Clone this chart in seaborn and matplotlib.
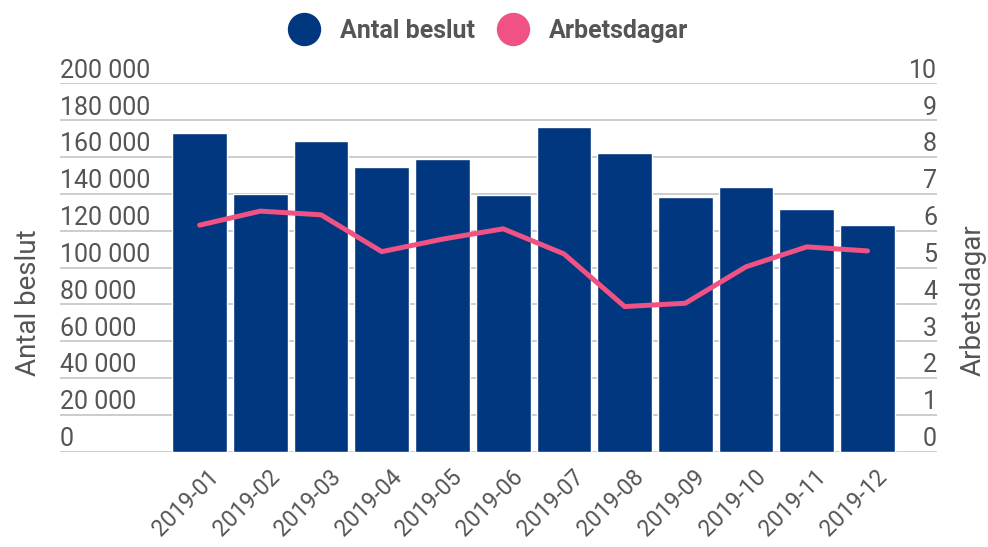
import matplotlib
matplotlib.use("Agg")
import matplotlib.pyplot as plt
import matplotlib.transforms as mtransforms
from matplotlib.lines import Line2D
import seaborn as sns
import numpy as np
import pandas as pd

months = ["2019-01", "2019-02", "2019-03", "2019-04", "2019-05", "2019-06",
          "2019-07", "2019-08", "2019-09", "2019-10", "2019-11", "2019-12"]
antal_beslut = [172900, 140100, 168500, 154400, 158700, 139200,
                176100, 162000, 138100, 143500, 131600, 122900]
arbetsdagar = [6.15, 6.53, 6.43, 5.43, 5.77, 6.05,
               5.37, 3.94, 4.03, 5.02, 5.56, 5.45]
left_ticks = [0, 20000, 40000, 60000, 80000, 100000, 120000, 140000, 160000, 180000, 200000]
right_ticks = [0, 1, 2, 3, 4, 5, 6, 7, 8, 9, 10]

BLUE = "#01377f"
PINK = "#ef5283"
GREY = "#555555"

sns.set_theme(style="white")
plt.rcParams["font.family"] = ["Roboto", "DejaVu Sans"]

df = pd.DataFrame({"month": months, "beslut": antal_beslut,
                   "dagar": arbetsdagar, "pos": np.arange(len(months))})

W, H = 988, 547
fig = plt.figure(figsize=(W / 100, H / 100), dpi=100)
ax = fig.add_axes([60 / W, (H - 451.7) / H, (937 - 60) / W, (451.7 - 83.3) / H])

sns.barplot(data=df, x="month", y="beslut", color=BLUE, saturation=1,
            width=0.9, ax=ax, zorder=2)
ax.set_xlim(-2.30, 12.145)
ax.set_ylim(0, 200000)
ax.set_yticks(left_ticks)
ax.yaxis.grid(True, color="#cccccc", linewidth=1.4, zorder=0)
ax.set_axisbelow(True)
ax.tick_params(axis="y", length=0, labelleft=False)
ax.tick_params(axis="x", length=0, pad=10)
ax.set_xticks(range(len(months)))
ax.set_xticklabels(months, rotation=45, ha="right", rotation_mode="anchor",
                   fontsize=16.5, color=GREY)
shift = mtransforms.ScaledTranslation(8 / 100, 0, fig.dpi_scale_trans)
for lab in ax.get_xticklabels():
    lab.set_transform(lab.get_transform() + shift)
ax.set_xlabel("")
ax.set_ylabel("")
for s in ax.spines.values():
    s.set_visible(False)

for v in left_ticks:
    lab = f"{v:,}".replace(",", " ")
    ax.annotate(lab, xy=(0, v), xycoords=ax.get_yaxis_transform(),
                xytext=(0, 4), textcoords="offset points",
                ha="left", va="baseline", fontsize=18, color=GREY)

ax2 = ax.twinx()
sns.lineplot(data=df, x="pos", y="dagar", color=PINK, linewidth=3.6, ax=ax2, zorder=3)
ax2.set_ylim(0, 10)
ax2.set_yticks(right_ticks)
ax2.tick_params(axis="y", length=0, labelright=False)
ax2.set_xlabel("")
ax2.set_ylabel("")
for s in ax2.spines.values():
    s.set_visible(False)
for v in right_ticks:
    ax2.annotate(str(v), xy=(1, v), xycoords=ax2.get_yaxis_transform(),
                 xytext=(0, 4), textcoords="offset points",
                 ha="right", va="baseline", fontsize=18, color=GREY)

fig.text(29 / W, 1 - 303 / H, "Antal beslut", rotation=90, ha="center", va="center",
         fontsize=20, color=GREY)
fig.text(973 / W, 1 - 300 / H, "Arbetsdagar", rotation=90, ha="center", va="center",
         fontsize=20, color=GREY)

handles = [Line2D([], [], marker="o", linestyle="none", markersize=23,
                  markerfacecolor=BLUE, markeredgecolor=BLUE, label="Antal beslut"),
           Line2D([], [], marker="o", linestyle="none", markersize=23,
                  markerfacecolor=PINK, markeredgecolor=PINK, label="Arbetsdagar")]
fig.legend(handles=handles, loc="center", bbox_to_anchor=(488 / W, 1 - 31 / H),
           ncol=2, frameon=False, handlelength=1.3, handletextpad=0.8, columnspacing=0.85,
           labelcolor=GREY, prop={"weight": "bold", "size": 18})

fig.savefig("out.png", dpi=100)
